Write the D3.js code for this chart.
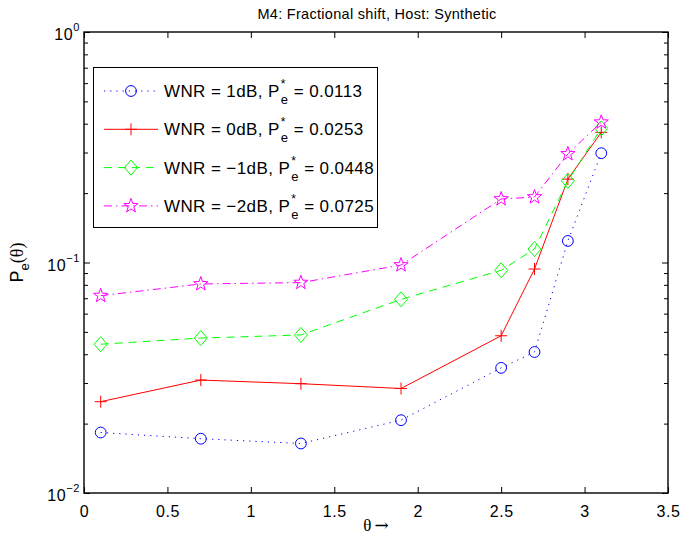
<!DOCTYPE html>
<html><head><meta charset="utf-8">
<script src="https://cdn.jsdelivr.net/npm/d3@7/dist/d3.min.js"></script>
<style>
body{margin:0;background:#fff}
text{font-family:"Liberation Sans",Arial,Helvetica,sans-serif;fill:#000}
</style>
</head><body>
<svg id="chart" width="683" height="542"></svg>
<script>
// ---- data ----
const thetas = [0.1, 0.7, 1.3, 1.9, 2.5, 2.7, 2.9, 3.1];
const wnrPos1 = [0.0183, 0.0172, 0.0164, 0.0207, 0.0349, 0.0409, 0.124, 0.298];
const wnr0    = [0.0249, 0.0309, 0.0298, 0.0284, 0.0481, 0.0937, 0.230, 0.367];
const wnrNeg1 = [0.0442, 0.0470, 0.0485, 0.0692, 0.0925, 0.1144, 0.226, 0.382];
const wnrNeg2 = [0.0718, 0.0807, 0.0818, 0.0975, 0.1886, 0.1923, 0.296, 0.406];
const seriesLabels = ["WNR = 1dB", "WNR = 0dB", "WNR = \u22121dB", "WNR = \u22122dB"];
const pStar = ["0.0113", "0.0253", "0.0448", "0.0725"];
const xTicks = [0, 0.5, 1, 1.5, 2, 2.5, 3, 3.5];
const yTickExps = [0, -1, -2];
const titleText = "M4: Fractional shift, Host: Synthetic";

// ---- layout ----
const L = 84, R = 668, T = 32, B = 493;
const svg = d3.select("#chart");
const x = d3.scaleLinear().domain([0, 3.5]).range([L, R]);
const y = d3.scaleLog().domain([0.01, 1]).range([B, T]);

const styles = [
  {color: "#0000ff", dash: "1.2,5", marker: "circle"},
  {color: "#ff0000", dash: null, marker: "plus"},
  {color: "#00ff00", dash: "8,6", marker: "diamond"},
  {color: "#ff00ff", dash: "8,4,1.5,4", marker: "star"}
];
const allSeries = [wnrPos1, wnr0, wnrNeg1, wnrNeg2];

// axes ticks
const minor = [];
for (let e = -2; e < 0; e++) for (let k = 2; k <= 9; k++) minor.push(k * Math.pow(10, e));

const gx = svg.append("g").attr("transform", `translate(0,${B})`)
  .call(d3.axisBottom(x).tickValues(xTicks).tickSizeInner(-6).tickSizeOuter(0).tickPadding(12)
        .tickFormat(d3.format("")));
const gxt = svg.append("g").attr("transform", `translate(0,${T})`)
  .call(d3.axisTop(x).tickValues(xTicks).tickSizeInner(-6).tickSizeOuter(0).tickFormat(""));
const gyl = svg.append("g").attr("transform", `translate(${L},0)`)
  .call(d3.axisLeft(y).tickValues(yTickExps.map(e => Math.pow(10, e))).tickSizeInner(-6).tickSizeOuter(0).tickFormat(""));
const gylm = svg.append("g").attr("transform", `translate(${L},0)`)
  .call(d3.axisLeft(y).tickValues(minor).tickSizeInner(-4).tickSizeOuter(0).tickFormat(""));
const gyr = svg.append("g").attr("transform", `translate(${R},0)`)
  .call(d3.axisRight(y).tickValues(yTickExps.map(e => Math.pow(10, e))).tickSizeInner(-6).tickSizeOuter(0).tickFormat(""));
const gyrm = svg.append("g").attr("transform", `translate(${R},0)`)
  .call(d3.axisRight(y).tickValues(minor).tickSizeInner(-4).tickSizeOuter(0).tickFormat(""));
[gx, gxt, gyl, gylm, gyr, gyrm].forEach(g => {
  g.select(".domain").remove();
  g.selectAll(".tick line").attr("stroke", "#000").attr("stroke-width", 1);
});
gx.selectAll(".tick text").attr("font-size", 16).attr("font-family", "Liberation Sans, Arial, sans-serif")
  .attr("fill", "#000").attr("letter-spacing", "0.6").attr("dy", "0.75em");

// y tick labels 10^e
yTickExps.forEach(e => {
  const t = svg.append("text").attr("x", L - 4).attr("y", y(Math.pow(10, e)) + 8)
    .attr("text-anchor", "end").attr("font-size", 16).attr("letter-spacing", "0.6");
  t.append("tspan").text("10");
  t.append("tspan").attr("dy", -9).attr("font-size", 11).text(e === 0 ? "0" : "\u2212" + Math.abs(e));
});

// frame
svg.append("rect").attr("x", L).attr("y", T).attr("width", R - L).attr("height", B - T)
  .attr("fill", "none").attr("stroke", "#000").attr("stroke-width", 1.4);

// marker drawer
function drawMarker(g, type, cx, cy, color) {
  if (type === "circle") {
    g.append("circle").attr("cx", cx).attr("cy", cy).attr("r", 5.4)
      .attr("fill", "none").attr("stroke", color).attr("stroke-width", 1);
  } else if (type === "plus") {
    g.append("path").attr("d", `M${cx-6},${cy}H${cx+6}M${cx},${cy-6}V${cy+6}`)
      .attr("stroke", color).attr("stroke-width", 1).attr("fill", "none");
  } else if (type === "diamond") {
    g.append("path").attr("d", `M${cx},${cy-7.5}L${cx+6.5},${cy}L${cx},${cy+7.5}L${cx-6.5},${cy}Z`)
      .attr("stroke", color).attr("stroke-width", 1).attr("fill", "none");
  } else if (type === "star") {
    const pts = [];
    for (let i = 0; i < 10; i++) {
      const r = i % 2 === 0 ? 7.5 : 3;
      const a = -Math.PI / 2 + i * Math.PI / 5;
      pts.push([cx + r * Math.cos(a), cy + r * Math.sin(a)]);
    }
    g.append("path").attr("d", "M" + pts.map(p => p.join(",")).join("L") + "Z")
      .attr("stroke", color).attr("stroke-width", 1).attr("fill", "none");
  }
}

// series
const line = d3.line().x(d => x(d[0])).y(d => y(d[1]));
allSeries.forEach((vals, i) => {
  const s = styles[i];
  const data = thetas.map((t, j) => [t, vals[j]]);
  const g = svg.append("g");
  g.append("path").datum(data).attr("d", line).attr("fill", "none")
    .attr("stroke", s.color).attr("stroke-width", 1)
    .attr("stroke-dasharray", s.dash);
  data.forEach(d => drawMarker(g, s.marker, x(d[0]), y(d[1]), s.color));
});

// legend
const lg = svg.append("g");
lg.append("rect").attr("x", 93.5).attr("y", 67.5).attr("width", 284).attr("height", 160)
  .attr("fill", "#fff").attr("stroke", "#000").attr("stroke-width", 1);
const rowY0 = 91, rowDy = 38.3;
seriesLabels.forEach((lab, i) => {
  const s = styles[i];
  const cy = rowY0 + i * rowDy;
  lg.append("path").attr("d", `M104,${cy}H158`).attr("stroke", s.color).attr("stroke-width", 1)
    .attr("fill", "none").attr("stroke-dasharray", s.dash);
  drawMarker(lg, s.marker, 131, cy, s.color);
  const base = cy + 6;
  const t1 = lg.append("text").attr("x", 164).attr("y", base).attr("font-size", 17)
    .attr("letter-spacing", "0.4").text(lab + ", P");
  const w1 = t1.node().getComputedTextLength();
  const sx = 164 + w1 + 1;
  lg.append("text").attr("x", sx).attr("y", base - 9).attr("font-size", 12).text("*");
  lg.append("text").attr("x", sx).attr("y", base + 7).attr("font-size", 13).text("e");
  lg.append("text").attr("x", sx + 13).attr("y", base).attr("font-size", 17)
    .attr("letter-spacing", "0.4").text("= " + pStar[i]);
});

// title
svg.append("text").attr("x", (L + R) / 2 + 1).attr("y", 19).attr("text-anchor", "middle")
  .attr("font-size", 14.5).attr("letter-spacing", "0.3").text(titleText);

// x label
const xl = svg.append("text").attr("x", (L + R) / 2).attr("y", 531).attr("text-anchor", "middle");
xl.append("tspan").attr("font-size", 17).attr("font-family", "Liberation Serif, Times New Roman, serif").text("\u03b8");
xl.append("tspan").attr("font-size", 17).attr("dx", 3).attr("font-family", "DejaVu Serif, serif").text("\u2192");

// y label
const yl = svg.append("text").attr("transform", `translate(23,${(T + B) / 2}) rotate(-90)`)
  .attr("text-anchor", "middle").attr("font-size", 18);
yl.append("tspan").text("P");
yl.append("tspan").attr("dy", 6).attr("font-size", 13).text("e");
yl.append("tspan").attr("dy", -6).attr("font-family", "Liberation Serif, serif").text("(\u03b8)");
</script>
</body></html>
